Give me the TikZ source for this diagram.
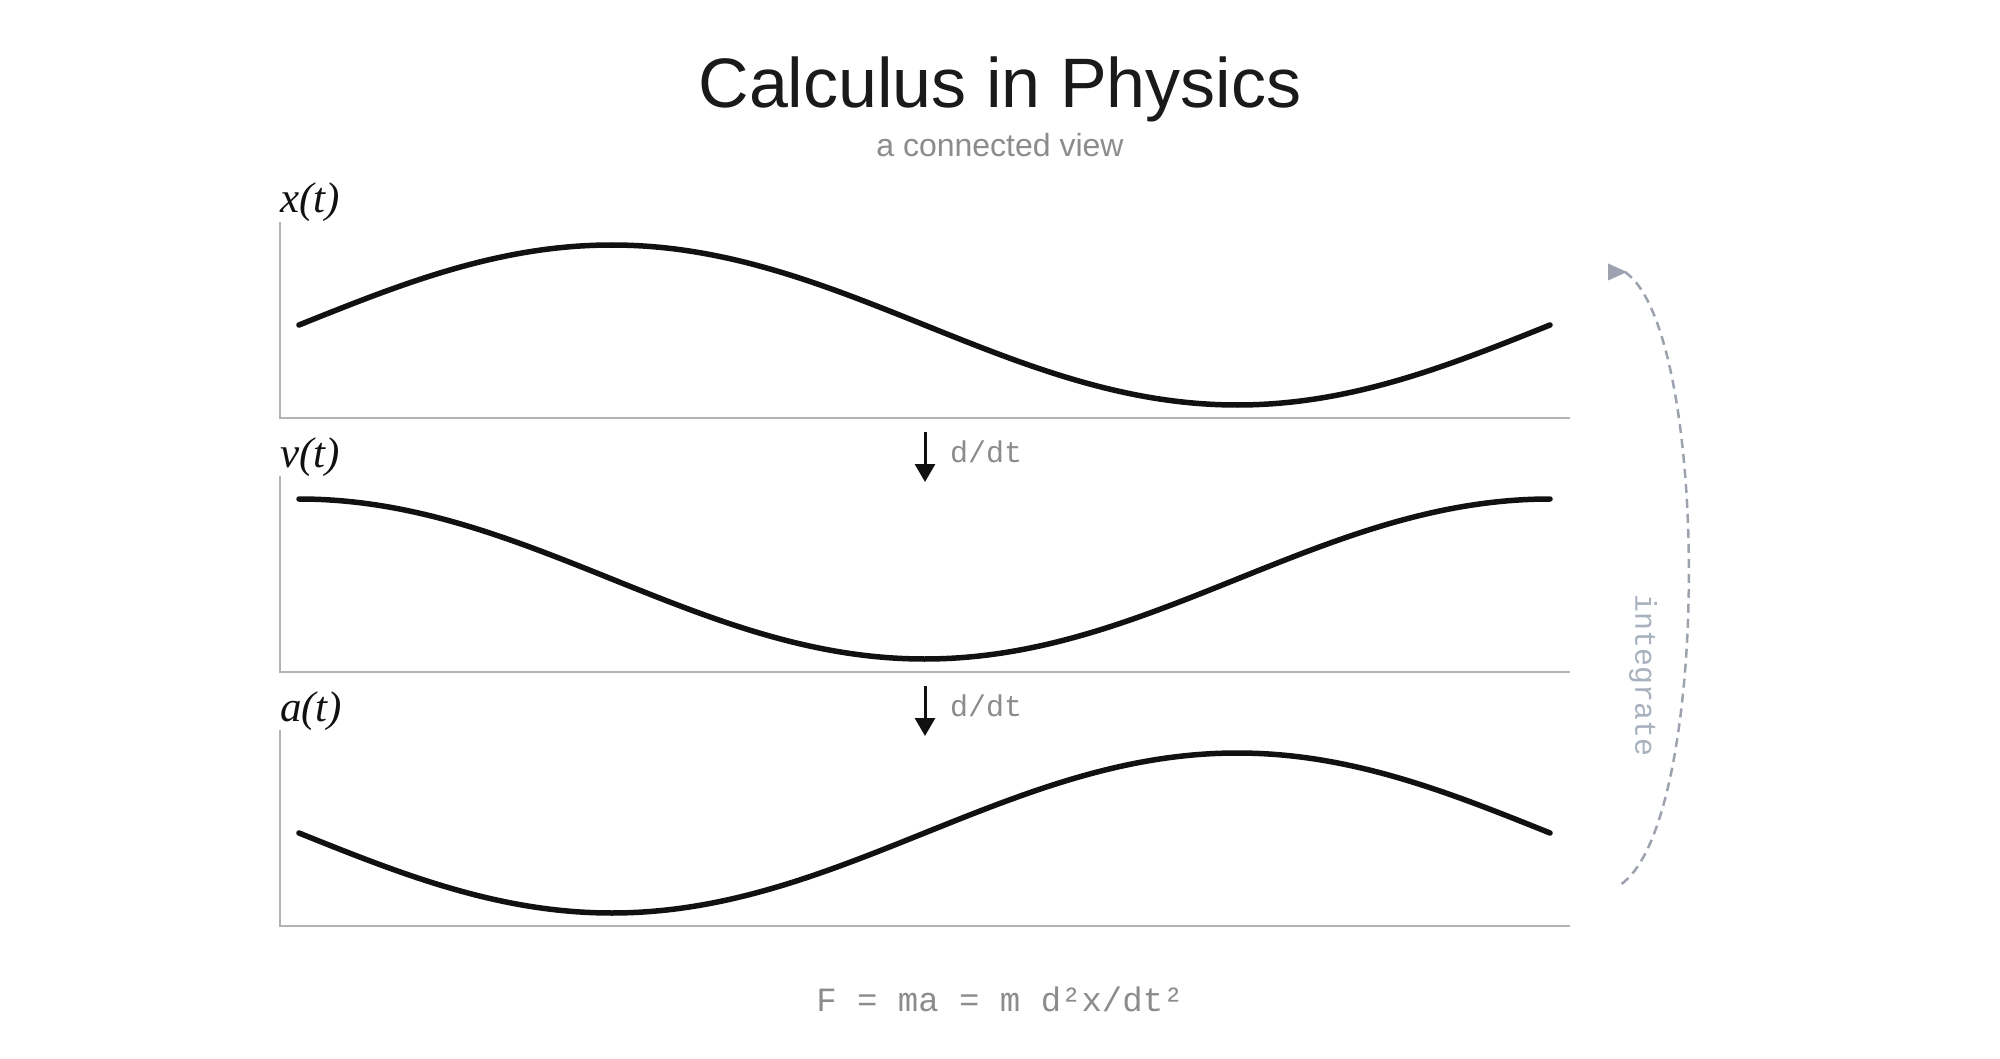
\documentclass[tikz,border=0pt]{standalone}
\usepackage{fontspec}
\newfontfamily\titlefont{Liberation Sans}
\newfontfamily\codefont{Liberation Mono}
\newfontfamily\labelfont{Liberation Serif}
\usetikzlibrary{arrows.meta}
\definecolor{ink}{HTML}{111111}
\definecolor{titleink}{HTML}{1A1A1A}
\definecolor{axisgray}{HTML}{B3B3B3}
\definecolor{softgray}{HTML}{8C8C8C}
\definecolor{intgray}{HTML}{9CA3AF}
\definecolor{inttext}{HTML}{A8B2BE}
\begin{document}
\begin{tikzpicture}[x=1pt,y=-1pt,
  txt/.style={inner sep=0pt, outer sep=0pt},
  curvestyle/.style={line width=5.5pt, draw=ink, line cap=round, line join=round},
  axisline/.style={line width=2pt, draw=axisgray},
  ddtarrow/.style={line width=3pt, draw=ink, -{Triangle[width=20pt,length=18pt]}},
  ddtlabel/.style={txt, anchor=base west, text=softgray, font=\codefont\fontsize{30}{30}\selectfont},
  fnlabel/.style={txt, anchor=base west, text=ink, font=\labelfont\itshape\fontsize{43}{43}\selectfont},
  intline/.style={line width=2.5pt, draw=intgray, dash pattern=on 9pt off 6pt}
]
\useasboundingbox (0,0) rectangle (2000,1059);
\fill[white] (0,0) rectangle (2000,1059);

% title
\node[txt, anchor=base, text=titleink, font=\titlefont\fontsize{70}{84}\selectfont] (title) at (1000,108) {Calculus in Physics};
\node[txt, anchor=base, text=softgray, font=\titlefont\fontsize{32}{38}\selectfont] (subtitle) at (1000,157) {a connected view};

% panels
\foreach \k in {0,1,2} {
  \draw[axisline] (280,{221.7+254*\k}) -- (280,{417.7+254*\k}) -- (1570,{417.7+254*\k});
}
\node[fnlabel] (lx) at (280,213) {x(t)};
\node[fnlabel] (lv) at (280,467) {v(t)};
\node[fnlabel] (la) at (280,721) {a(t)};

\draw[curvestyle] plot[domain=0:360,samples=181] ({299+3.475*\x},{325-80*sin(\x)});
\draw[curvestyle] plot[domain=0:360,samples=181] ({299+3.475*\x},{579-80*cos(\x)});
\draw[curvestyle] plot[domain=0:360,samples=181] ({299+3.475*\x},{833+80*sin(\x)});

% derivative arrows
\coordinate (d1s) at (925,432);
\coordinate (d1e) at (925,482);
\coordinate (d2s) at (925,686);
\coordinate (d2e) at (925,736);
\draw[ddtarrow] (d1s) -- (d1e);
\draw[ddtarrow] (d2s) -- (d2e);
\node[ddtlabel] (ddt1) at (950,462) {d/dt};
\node[ddtlabel] (ddt2) at (950,716) {d/dt};

% integrate
\coordinate (intS) at (1625,272);
\coordinate (intE) at (1620,885);
\draw[intline] (intS) .. controls (1711,331) and (1711,825) .. (intE);
\fill[intgray] (intS) ++(-17,-8.5) -- ++(0,17) -- ++(19,-8.5) -- cycle;
\node[txt, rotate=-90, text=inttext, font=\codefont\fontsize{30}{30}\selectfont] (intlabel) at (1643,676) {integrate};

% formula
\node[txt, anchor=base, text=softgray, font=\codefont\fontsize{34}{34}\selectfont] (formula) at (1000,1011) {F = ma = m d²x/dt²};
\end{tikzpicture}
\end{document}
